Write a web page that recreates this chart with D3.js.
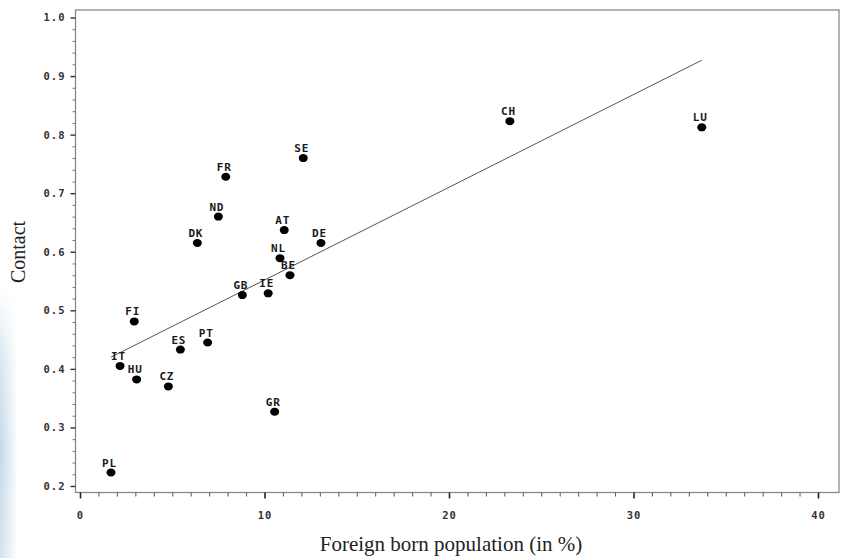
<!DOCTYPE html>
<html>
<head>
<meta charset="utf-8">
<script src="https://cdn.jsdelivr.net/npm/d3@7"></script>
<style>
  html, body { margin: 0; padding: 0; background: #fff; }
  svg { display: block; }
  .tick text { font-family: "DejaVu Sans Mono", monospace; font-weight: bold; font-size: 10.5px; letter-spacing: 1px; fill: #333; }
</style>
</head>
<body>
<svg id="chart" width="841" height="558"></svg>
<script>
// ---- data ----
const countries = ["PL","IT","FI","HU","CZ","ES","DK","PT","ND","FR","GB","IE","GR","NL","AT","BE","SE","DE","CH","LU"];
const foreignBorn = [1.68, 2.17, 2.94, 3.07, 4.79, 5.44, 6.36, 6.92, 7.5, 7.9, 8.8, 10.2, 10.55, 10.84, 11.07, 11.38, 12.1, 13.06, 23.3, 33.7];
const contact = [0.223, 0.405, 0.481, 0.382, 0.37, 0.433, 0.615, 0.445, 0.66, 0.728, 0.526, 0.529, 0.327, 0.589, 0.637, 0.56, 0.76, 0.615, 0.823, 0.8125];
const fitX = [1.68, 33.7];
const fitY = [0.42, 0.927];
const xTicks = [0, 10, 20, 30, 40];
const yTicks = [0.2, 0.3, 0.4, 0.5, 0.6, 0.7, 0.8, 0.9, 1.0];
const xTitle = "Foreign born population (in %)";
const yTitle = "Contact";

(function () {
const svg = d3.select("#chart");

// left decorative strip
const defs = svg.append("defs");
const grad = defs.append("linearGradient").attr("id", "strip").attr("x1", 0).attr("x2", 0).attr("y1", 0).attr("y2", 1);
grad.append("stop").attr("offset", "0%").attr("stop-color", "#ffffff");
grad.append("stop").attr("offset", "25%").attr("stop-color", "#d9e7f1");
grad.append("stop").attr("offset", "60%").attr("stop-color", "#c4d8e8");
grad.append("stop").attr("offset", "100%").attr("stop-color", "#d3e2ee");
const gradH = defs.append("linearGradient").attr("id", "stripH").attr("x1", 0).attr("x2", 1).attr("y1", 0).attr("y2", 0);
gradH.append("stop").attr("offset", "0%").attr("stop-color", "#fff").attr("stop-opacity", 0);
gradH.append("stop").attr("offset", "100%").attr("stop-color", "#fff").attr("stop-opacity", 1);
svg.append("rect").attr("x", 0).attr("y", 290).attr("width", 18).attr("height", 268).attr("fill", "url(#strip)");
svg.append("rect").attr("x", 0).attr("y", 290).attr("width", 18).attr("height", 268).attr("fill", "url(#stripH)");

const x = d3.scaleLinear().domain([0, 40]).range([80, 818]);
const y = d3.scaleLinear().domain([0.2, 1.0]).range([486, 17.5]);

const fLeft = 75.5, fRight = 839, fTop = 10, fBottom = 492.5;

// frame
svg.append("rect").attr("x", fLeft).attr("y", fTop).attr("width", fRight - fLeft).attr("height", fBottom - fTop)
  .attr("fill", "none").attr("stroke", "#8a8a8a").attr("stroke-width", 1.3);

// minor ticks
const yMinor = d3.range(0, 41).map(i => 0.2 + i * 0.02).filter(v => Math.abs(Math.round(v * 10) - v * 10) > 1e-6);
const xMinor = d3.range(0, 41).filter(v => v % 10 !== 0);

const yMinorAxis = d3.axisLeft(y).tickValues(yMinor).tickSize(3).tickFormat("");
const gyMinor = svg.append("g").attr("transform", `translate(${fLeft},0)`).call(yMinorAxis);
gyMinor.select(".domain").remove();
gyMinor.selectAll("line").attr("stroke", "#777");

const xMinorAxis = d3.axisBottom(x).tickValues(xMinor).tickSize(4).tickFormat("");
const gxMinor = svg.append("g").attr("transform", `translate(0,${fBottom})`).call(xMinorAxis);
gxMinor.select(".domain").remove();
gxMinor.selectAll("line").attr("stroke", "#555");

// major axes
const yAxis = d3.axisLeft(y).tickValues(yTicks).tickSize(5).tickPadding(5).tickFormat(d3.format(".1f"));
const gy = svg.append("g").attr("transform", `translate(${fLeft},0)`).call(yAxis);
gy.select(".domain").remove();
gy.selectAll("line").attr("stroke", "#333").attr("stroke-width", 1.4);

const xAxis = d3.axisBottom(x).tickValues(xTicks).tickSize(6).tickPadding(13).tickFormat(d3.format("d"));
const gx = svg.append("g").attr("transform", `translate(0,${fBottom})`).call(xAxis);
gx.select(".domain").remove();
gx.selectAll("line").attr("stroke", "#222").attr("stroke-width", 1.6);

// fit line
svg.append("line")
  .attr("x1", x(fitX[0])).attr("y1", y(fitY[0]))
  .attr("x2", x(fitX[1])).attr("y2", y(fitY[1]))
  .attr("stroke", "#555").attr("stroke-width", 1);

// points
const pts = countries.map((c, i) => ({ c, fx: foreignBorn[i], ct: contact[i] }));
svg.append("g").selectAll("ellipse").data(pts).join("ellipse")
  .attr("cx", d => x(d.fx)).attr("cy", d => y(d.ct))
  .attr("rx", 4.5).attr("ry", 4).attr("fill", "#000");

svg.append("g").selectAll("text").data(pts).join("text")
  .attr("x", d => x(d.fx) - 1.5).attr("y", d => y(d.ct) - 6)
  .attr("text-anchor", "middle")
  .style("font-family", "'DejaVu Sans Mono', monospace").style("font-weight", "bold")
  .style("font-size", "11px").style("letter-spacing", "0.8px").attr("fill", "#1a1a1a")
  .text(d => d.c);

// titles
svg.append("text").attr("x", 451).attr("y", 551).attr("text-anchor", "middle")
  .style("font-family", "'Liberation Serif', 'Times New Roman', serif").style("font-size", "21px").attr("fill", "#222")
  .text(xTitle);
svg.append("text").attr("transform", "translate(25,252) rotate(-90)").attr("text-anchor", "middle")
  .style("font-family", "'Liberation Serif', 'Times New Roman', serif").style("font-size", "20px").attr("fill", "#222")
  .text(yTitle);
})();
</script>
</body>
</html>
